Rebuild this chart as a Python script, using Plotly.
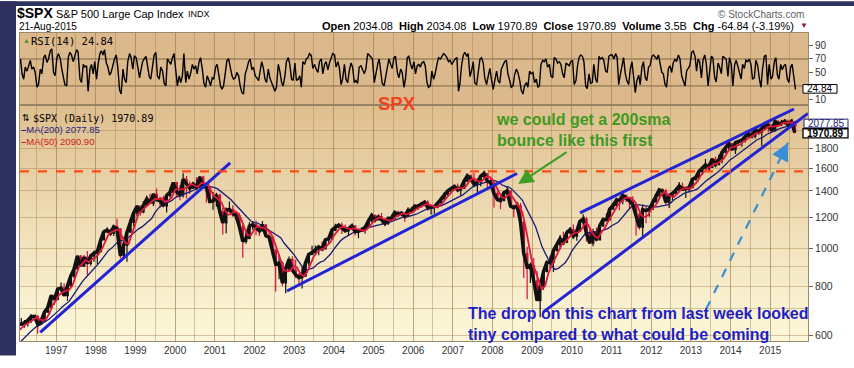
import math
import pandas as pd
import plotly.graph_objects as go

# ---------------- data (monthly) ----------------
prior_closes = [500.7, 514.7, 533.4, 544.8, 562.1, 561.9, 584.4, 581.5, 605.4, 615.9]  # Mar-Dec 1995 (MA warm-up)

closes = [
    636.0, 640.4, 645.5, 654.2, 669.1, 670.6, 640.0, 652.0, 687.3, 705.3, 757.0, 740.7,
    786.2, 790.8, 757.1, 801.3, 848.3, 885.1, 954.3, 899.5, 947.3, 914.6, 955.4, 970.4,
    980.3, 1049.3, 1101.8, 1111.8, 1090.8, 1133.8, 1120.7, 957.3, 1017.0, 1098.7, 1163.6, 1229.2,
    1279.6, 1238.3, 1286.4, 1335.2, 1301.8, 1372.7, 1328.7, 1320.4, 1282.7, 1362.9, 1388.9, 1469.3,
    1394.5, 1366.4, 1498.6, 1452.4, 1420.6, 1454.6, 1430.8, 1517.7, 1436.5, 1429.4, 1315.0, 1320.3,
    1366.0, 1239.9, 1160.3, 1249.5, 1255.8, 1224.4, 1211.2, 1133.6, 1040.9, 1059.8, 1139.5, 1148.1,
    1130.2, 1106.7, 1147.4, 1076.9, 1067.1, 989.8, 911.6, 916.1, 815.3, 885.8, 936.3, 879.8,
    855.7, 841.2, 848.2, 916.9, 963.6, 974.5, 990.3, 1008.0, 996.0, 1050.7, 1058.2, 1111.9,
    1131.1, 1144.9, 1126.2, 1107.3, 1120.7, 1140.8, 1101.7, 1104.2, 1114.6, 1130.2, 1173.8, 1211.9,
    1181.3, 1203.6, 1180.6, 1156.9, 1191.5, 1191.3, 1234.2, 1220.3, 1228.8, 1207.0, 1249.5, 1248.3,
    1280.1, 1280.7, 1294.9, 1310.6, 1270.1, 1270.2, 1276.7, 1303.8, 1335.9, 1377.9, 1400.6, 1418.3,
    1438.2, 1406.8, 1420.9, 1482.4, 1530.6, 1503.4, 1455.3, 1474.0, 1526.8, 1549.4, 1481.1, 1468.4,
    1378.6, 1330.6, 1322.7, 1385.6, 1400.4, 1280.0, 1267.4, 1282.8, 1166.4, 968.8, 896.2, 903.3,
    825.9, 735.1, 797.9, 872.8, 919.1, 919.3, 987.5, 1020.6, 1057.1, 1036.2, 1095.6, 1115.1,
    1073.9, 1104.5, 1169.4, 1186.7, 1089.4, 1030.7, 1101.6, 1049.3, 1141.2, 1183.3, 1180.6, 1257.6,
    1286.1, 1327.2, 1325.8, 1363.6, 1345.2, 1320.6, 1292.3, 1218.9, 1131.4, 1253.3, 1247.0, 1257.6,
    1312.4, 1365.7, 1408.5, 1397.9, 1310.3, 1362.2, 1379.3, 1406.6, 1440.7, 1412.2, 1416.2, 1426.2,
    1498.1, 1514.7, 1569.2, 1597.6, 1630.7, 1606.3, 1685.7, 1633.0, 1681.6, 1756.5, 1805.8, 1848.4,
    1782.6, 1859.5, 1872.3, 1884.0, 1923.6, 1960.2, 1930.7, 2003.4, 1972.3, 2018.1, 2067.6, 2058.9,
    1995.0, 2104.5, 2067.9, 2085.5, 2107.4, 2063.1, 2103.8, 1970.9,
]
highs = [
    638, 664, 656, 657, 680, 673, 676, 666, 690, 714, 762, 762,
    794, 818, 814, 805, 853, 898, 957, 961, 960, 983, 964, 986,
    992, 1051, 1106, 1131, 1123, 1142, 1191, 1122, 1066, 1104, 1193, 1245,
    1280, 1274, 1317, 1362, 1376, 1373, 1420, 1352, 1361, 1373, 1427, 1474,
    1478, 1445, 1553, 1528, 1481, 1478, 1517, 1526, 1531, 1437, 1437, 1390,
    1384, 1377, 1268, 1269, 1316, 1286, 1240, 1227, 1155, 1110, 1164, 1173,
    1176, 1131, 1173, 1148, 1106, 1070, 994, 966, 925, 907, 952, 954,
    935, 864, 895, 924, 965, 1015, 1016, 1012, 1040, 1054, 1063, 1112,
    1155, 1159, 1163, 1150, 1128, 1146, 1141, 1109, 1131, 1142, 1188, 1218,
    1218, 1212, 1229, 1192, 1199, 1219, 1245, 1245, 1243, 1233, 1271, 1276,
    1295, 1297, 1311, 1318, 1326, 1290, 1283, 1306, 1340, 1389, 1407, 1431,
    1441, 1462, 1439, 1499, 1535, 1541, 1556, 1504, 1539, 1576, 1545, 1524,
    1471, 1396, 1359, 1397, 1441, 1405, 1293, 1314, 1304, 1168, 1008, 919,
    944, 875, 832, 877, 930, 956, 997, 1039, 1080, 1101, 1113, 1130,
    1150, 1113, 1181, 1220, 1201, 1132, 1121, 1130, 1150, 1197, 1228, 1263,
    1303, 1345, 1333, 1365, 1371, 1345, 1357, 1307, 1230, 1293, 1277, 1269,
    1333, 1378, 1420, 1422, 1416, 1363, 1392, 1426, 1475, 1471, 1434, 1448,
    1504, 1531, 1570, 1598, 1688, 1654, 1698, 1710, 1730, 1775, 1814, 1849,
    1850, 1867, 1884, 1897, 1925, 1968, 1991, 2006, 2019, 2019, 2076, 2093,
    2065, 2120, 2118, 2126, 2135, 2130, 2133, 2112,
]
lows = [
    598, 633, 627, 631, 645, 662, 605, 639, 649, 684, 703, 716,
    737, 773, 756, 733, 798, 837, 883, 897, 896, 855, 902, 924,
    912, 979, 1047, 1097, 1086, 1074, 1114, 943, 940, 923, 1099, 1137,
    1205, 1209, 1227, 1282, 1300, 1282, 1325, 1268, 1269, 1233, 1345, 1387,
    1350, 1326, 1346, 1339, 1374, 1418, 1415, 1428, 1419, 1305, 1312, 1254,
    1275, 1229, 1082, 1091, 1233, 1203, 1183, 1124, 945, 1026, 1054, 1114,
    1081, 1074, 1101, 1063, 1048, 952, 776, 833, 800, 768, 873, 872,
    840, 807, 789, 847, 902, 960, 962, 960, 990, 994, 1031, 1055,
    1105, 1124, 1087, 1105, 1076, 1113, 1078, 1060, 1101, 1090, 1127, 1163,
    1163, 1180, 1176, 1137, 1146, 1188, 1183, 1201, 1206, 1168, 1201, 1246,
    1245, 1253, 1268, 1280, 1245, 1219, 1224, 1265, 1290, 1327, 1360, 1385,
    1403, 1389, 1364, 1416, 1476, 1484, 1454, 1371, 1439, 1490, 1407, 1435,
    1270, 1316, 1257, 1325, 1373, 1272, 1200, 1247, 1107, 840, 741, 815,
    805, 735, 667, 784, 867, 888, 870, 979, 992, 1020, 1030, 1086,
    1071, 1045, 1106, 1170, 1040, 1028, 1011, 1040, 1048, 1132, 1173, 1181,
    1262, 1290, 1249, 1295, 1311, 1258, 1283, 1077, 1114, 1075, 1158, 1202,
    1258, 1312, 1341, 1358, 1291, 1267, 1325, 1378, 1396, 1403, 1343, 1386,
    1427, 1486, 1501, 1536, 1581, 1560, 1605, 1627, 1633, 1647, 1746, 1767,
    1770, 1738, 1834, 1815, 1860, 1915, 1930, 1905, 1965, 1821, 2001, 1973,
    1988, 1980, 2040, 2048, 2067, 2057, 2044, 1970,
]
opens = [prior_closes[-1]] + closes[:-1]

# RSI(14), two readings per month
rsi_values = [
    45, 62, 70, 48, 40, 58, 52, 60, 68, 55, 58, 50, 28, 32, 55, 48, 72, 76, 65, 70, 82, 85, 50, 45,
    72, 78, 70, 55, 42, 32, 30, 72, 80, 76, 66, 74, 84, 80, 40, 35, 62, 58, 60, 22, 55, 62, 48, 66,
    40, 62, 78, 82, 76, 84, 64, 58, 46, 50, 62, 70, 76, 58, 24, 18, 55, 40, 35, 66, 78, 72, 55, 74,
    72, 60, 42, 55, 66, 70, 74, 60, 44, 40, 58, 76, 80, 45, 40, 58, 52, 34, 30, 70, 66, 62, 72, 78,
    52, 30, 45, 35, 45, 78, 35, 52, 40, 48, 62, 55, 60, 48, 65, 72, 55, 34, 28, 45, 38, 30, 42, 40,
    58, 62, 45, 30, 25, 30, 50, 68, 70, 58, 45, 40, 42, 50, 45, 30, 20, 18, 48, 55, 66, 70, 54, 58,
    45, 42, 38, 52, 66, 58, 40, 35, 55, 42, 35, 28, 22, 28, 62, 52, 35, 30, 45, 66, 72, 62, 40, 38,
    64, 38, 40, 45, 28, 66, 62, 70, 72, 78, 75, 56, 62, 55, 50, 66, 70, 48, 62, 66, 54, 64, 72, 78,
    76, 58, 66, 56, 32, 40, 62, 40, 35, 52, 64, 58, 35, 38, 34, 58, 60, 55, 48, 55, 78, 76, 72, 70,
    35, 48, 62, 70, 52, 34, 30, 45, 60, 70, 62, 56, 72, 74, 50, 42, 55, 50, 28, 40, 72, 74, 62, 55,
    66, 48, 60, 62, 58, 64, 66, 60, 35, 28, 30, 52, 40, 48, 62, 72, 70, 74, 78, 76, 72, 66, 68, 62,
    66, 70, 72, 22, 34, 60, 76, 80, 74, 78, 44, 52, 66, 34, 32, 48, 70, 72, 64, 42, 32, 44, 56, 40,
    25, 38, 52, 38, 34, 55, 60, 66, 68, 48, 38, 28, 30, 46, 55, 50, 38, 24, 18, 30, 35, 28, 52, 48,
    50, 35, 40, 28, 30, 62, 68, 66, 70, 58, 62, 45, 42, 72, 70, 64, 66, 62, 48, 42, 64, 62, 60, 66,
    68, 32, 38, 60, 72, 76, 74, 66, 30, 26, 48, 34, 35, 62, 40, 35, 74, 70, 72, 68, 52, 50, 74, 76,
    76, 70, 78, 72, 32, 46, 62, 72, 48, 38, 32, 54, 66, 40, 20, 38, 46, 32, 58, 66, 42, 38, 58, 60,
    74, 76, 72, 70, 76, 62, 50, 48, 32, 28, 56, 60, 50, 64, 70, 66, 76, 70, 45, 38, 30, 52, 56, 60,
    80, 82, 74, 52, 70, 66, 42, 68, 76, 64, 30, 52, 74, 72, 42, 36, 64, 58, 48, 74, 72, 70, 44, 72,
    62, 30, 62, 68, 60, 52, 40, 62, 56, 68, 66, 70, 62, 40, 42, 68, 60, 42, 28, 55, 74, 76, 32, 62,
    40, 44, 66, 72, 46, 40, 62, 54, 60, 62, 40, 35, 58, 62, 45, 24.84,
]

year_labels = [str(y) for y in range(1997, 2016)]
price_ticks = [600, 800, 1000, 1200, 1400, 1600, 1800]
price_grid_extra = [700, 900, 2000]
rsi_ticks = [10, 50, 70, 90]
rsi_lines = [30, 70]
resistance_level = 1570

# analyst trend lines (date, price)
tl1_dates, tl1_prices = ["1996-08-07", "2001-05-22"], [610, 1649]
tl2_dates, tl2_prices = ["2002-10-27", "2008-08-14"], [778, 1550]
tl3_dates, tl3_prices = ["2010-03-17", "2015-08-08"], [1230, 2264]
tl4_dates, tl4_prices = ["2009-04-12", "2015-12-15"], [687, 2206]
dash_arrow_dates, dash_arrow_prices = ["2013-05-21", "2015-06-14"], [699, 1857]
green_arrow_date, green_arrow_price = "2008-08-24", 1457

# ---------------- derived series ----------------
month_mid = pd.date_range("1996-01-01", periods=len(closes), freq="MS") + pd.Timedelta(days=14)
month_end = month_mid + pd.Timedelta(days=15)
all_closes = pd.Series(prior_closes + closes)
ma200 = all_closes.rolling(10).mean().iloc[len(prior_closes):].values
ma50 = all_closes.rolling(3).mean().iloc[len(prior_closes):].values
rsi_dates = pd.date_range("1996-01-01", periods=len(rsi_values), freq="SMS") + pd.Timedelta(days=7)

# ---------------- geometry helpers (pixel -> paper) ----------------
L, R, T, B = 20, 808, 33, 353
W, H = R - L, B - T
def px(x): return (x - L) / W
def py(y): return (B - y) / H
split = py(108)

FONT = "Liberation Sans, Arial, sans-serif"
MONO = "DejaVu Sans Mono, monospace"
GRID = "rgba(165,125,75,0.42)"

fig = go.Figure()

fig.add_trace(go.Scatter(x=rsi_dates, y=rsi_values, mode="lines", xaxis="x2", yaxis="y2",
                         line=dict(color="#000000", width=1.4), hoverinfo="skip", showlegend=False))

fig.add_trace(go.Scatter(x=month_end, y=ma200, mode="lines", line=dict(color="#1a1a78", width=1.3),
                         hoverinfo="skip", showlegend=False))
fig.add_trace(go.Scatter(x=month_mid, y=closes, mode="lines", line=dict(color="#111111", width=3.5),
                         hoverinfo="skip", showlegend=False))
fig.add_trace(go.Candlestick(x=month_mid, open=opens, high=highs, low=lows, close=closes,
                             increasing=dict(line=dict(color="#111111", width=1.2), fillcolor="#111111"),
                             decreasing=dict(line=dict(color="#d4123c", width=1.2), fillcolor="#d4123c"),
                             whiskerwidth=0, hoverinfo="skip", showlegend=False))
fig.add_trace(go.Scatter(x=month_end, y=ma50, mode="lines", line=dict(color="#e0183c", width=1.8),
                         hoverinfo="skip", showlegend=False))

for d, p in [(tl1_dates, tl1_prices), (tl2_dates, tl2_prices), (tl3_dates, tl3_prices), (tl4_dates, tl4_prices)]:
    fig.add_trace(go.Scatter(x=d, y=p, mode="lines", line=dict(color="#2323d6", width=3),
                             hoverinfo="skip", showlegend=False))
fig.add_trace(go.Scatter(x=dash_arrow_dates, y=dash_arrow_prices, mode="lines",
                         line=dict(color="#3a8ed6", width=2.2, dash="dash"), hoverinfo="skip", showlegend=False))

# ---------------- background shapes ----------------
shapes = []
n = 40
top_c, bot_c = (222, 190, 142), (252, 247, 216)
for i in range(n):
    f = i / (n - 1)
    c = tuple(round(bot_c[k] + (top_c[k] - bot_c[k]) * f ** 1.15) for k in range(3))
    shapes.append(dict(type="rect", xref="paper", yref="paper", x0=0, x1=1,
                       y0=split * i / n, y1=split * (i + 1) / n + 0.002,
                       fillcolor="rgb(%d,%d,%d)" % c, line=dict(width=0), layer="below"))
shapes.append(dict(type="rect", xref="paper", yref="paper", x0=0, x1=1, y0=split, y1=1,
                   fillcolor="#dcb98c", line=dict(width=0), layer="below"))
# frame strips
shapes.append(dict(type="rect", xref="paper", yref="paper", x0=px(0), x1=px(16), y0=py(368), y1=py(0),
                   fillcolor="#2e3060", line=dict(width=0), layer="below"))
shapes.append(dict(type="rect", xref="paper", yref="paper", x0=px(0), x1=px(854), y0=py(5), y1=py(0),
                   fillcolor="#2e3060", line=dict(width=0), layer="below"))
# panel separator
shapes.append(dict(type="line", xref="paper", yref="paper", x0=0, x1=1, y0=split, y1=split,
                   line=dict(color="#8f7d5e", width=1)))
for v in rsi_lines:
    shapes.append(dict(type="line", xref="x2 domain", yref="y2", x0=0, x1=1, y0=v, y1=v,
                       line=dict(color="#7d6848", width=1), layer="below"))
shapes.append(dict(type="line", xref="x domain", yref="y", x0=0, x1=1, y0=resistance_level, y1=resistance_level,
                   line=dict(color="#ff4a14", width=2.2, dash="dash")))
# right-axis value boxes
shapes.append(dict(type="rect", xref="paper", yref="paper", x0=px(803), x1=px(837), y0=py(95.5), y1=py(86.5),
                   fillcolor="#ffffff", line=dict(color="#000000", width=1)))
shapes.append(dict(type="rect", xref="paper", yref="paper", x0=px(804), x1=px(848), y0=py(131.5), y1=py(122.5),
                   fillcolor="#ffffff", line=dict(color="#23236e", width=1)))
shapes.append(dict(type="rect", xref="paper", yref="paper", x0=px(803), x1=px(848), y0=py(142), y1=py(132.5),
                   fillcolor="#ffffff", line=dict(color="#000000", width=1.3)))

# ---------------- annotations ----------------
ann = []
def txt(text, x, y, size, color="#000000", family=FONT, xanchor="left", yanchor="middle", align="left", **kw):
    ann.append(dict(text=text, x=x, y=y, xref="paper", yref="paper", showarrow=False,
                    xanchor=xanchor, yanchor=yanchor, align=align,
                    font=dict(size=size, color=color, family=family), **kw))

txt("<b>$SPX</b>", px(15), py(12), 14)
txt("S&P 500 Large Cap Index", px(54), py(13.5), 11)
txt("INDX", px(186), py(13.5), 9)
txt("21-Aug-2015", px(17), py(26), 10)
txt("<b>Open</b> 2034.08  <b>High</b> 2034.08  <b>Low</b> 1970.89  <b>Close</b> 1970.89  "
    "<b>Volume</b> 3.5B  <b>Chg</b> -64.84 (-3.19%)", px(796), py(25.5), 11, xanchor="right")
txt("▼", px(798), py(25.5), 8, color="#a4123f")
txt("© StockCharts.com", px(806), py(13.5), 10, color="#606060", xanchor="right")

txt("▲", px(21), py(41), 7, color="#4f8a2a")
txt("RSI(14) 24.84", px(29), py(41), 10.5, family=MONO)
txt("⇅", px(20), py(121.5), 9)
txt("$SPX (Daily) 1970.89", px(31), py(121.5), 10, family=MONO)
txt("<span style='color:#1e1e86'><b>–</b>MA(200) 2077.85</span><br>"
    "<span style='color:#d02020'><b>–</b>MA(50) 2090.90</span>", px(19), py(139.5), 9.5)

txt("<b>SPX</b>", px(397), py(106), 18.5, color="#f2421c", xanchor="center")
txt("<b>we could get a 200sma<br>bounce like this first</b>", px(494), py(134), 16, color="#3d9a1f")
txt("<b>The drop on this chart from last week looked<br>tiny compared to what could be coming</b>",
    px(466), py(335), 16, color="#1e1ec8")

txt("24.84", px(804.5), py(90.5), 10)
txt("2077.85", px(805.5), py(126.8), 10, color="#23236e")
txt("<b>1970.89</b>", px(804.5), py(137.5), 10)

# arrows
ann.append(dict(text="", x=green_arrow_date, y=math.log10(green_arrow_price), xref="x", yref="y",
                showarrow=True, ax=50, ay=-33, arrowhead=2, arrowsize=1.4, arrowwidth=2.2,
                arrowcolor="#3f9e25", standoff=0))
ann.append(dict(text="", x=dash_arrow_dates[1], y=math.log10(dash_arrow_prices[1]), xref="x", yref="y",
                showarrow=True, ax=-6, ay=12, arrowhead=2, arrowsize=1.6, arrowwidth=2.2,
                arrowcolor="#3a8ed6", standoff=0))

year_vals = ["%s-01-01" % y for y in year_labels]

axis_common = dict(showline=True, mirror=True, linecolor="#9a8a6a", linewidth=1, zeroline=False)

fig.update_layout(
    width=854, height=368, margin=dict(l=L, r=854 - R, t=T, b=368 - B),
    paper_bgcolor="#ffffff", plot_bgcolor="rgba(0,0,0,0)",
    showlegend=False, shapes=shapes, annotations=ann,
    xaxis=dict(domain=[0, 1], anchor="y", type="date", range=["1996-02-03", "2015-12-15"],
               tickvals=year_vals, ticktext=year_labels, ticks="",
               tickfont=dict(size=10, color="#333333", family=FONT),
               showgrid=True, gridcolor=GRID, gridwidth=1,
               minor=dict(dtick="M6", tick0="1996-07-01", showgrid=True, gridcolor=GRID, gridwidth=1),
               rangeslider=dict(visible=False), **axis_common),
    xaxis2=dict(domain=[0, 1], anchor="y2", matches="x", type="date", showticklabels=False, ticks="",
                tickvals=year_vals, showgrid=True, gridcolor=GRID,
                minor=dict(dtick="M6", tick0="1996-07-01", showgrid=True, gridcolor=GRID),
                rangeslider=dict(visible=False), **axis_common),
    yaxis=dict(domain=[0, split], anchor="x", type="log", side="right",
               range=[math.log10(580), math.log10(2315)],
               tickvals=price_ticks, ticktext=[str(v) for v in price_ticks],
               ticks="outside", ticklen=4, tickcolor="#666666",
               tickfont=dict(size=10.5, color="#333333", family=FONT),
               showgrid=True, gridcolor=GRID,
               minor=dict(tickvals=price_grid_extra, showgrid=True, gridcolor=GRID, ticks=""),
               **axis_common),
    yaxis2=dict(domain=[split, 1], anchor="x2", side="right", range=[1.4, 108.6],
                tickvals=rsi_ticks, ticktext=[str(v) for v in rsi_ticks],
                ticks="outside", ticklen=4, tickcolor="#666666",
                tickfont=dict(size=10, color="#333333", family=FONT),
                showgrid=False, **axis_common),
)

fig.write_html("out.html", config={"displayModeBar": False},
               post_script="document.body.style.margin='0';")
